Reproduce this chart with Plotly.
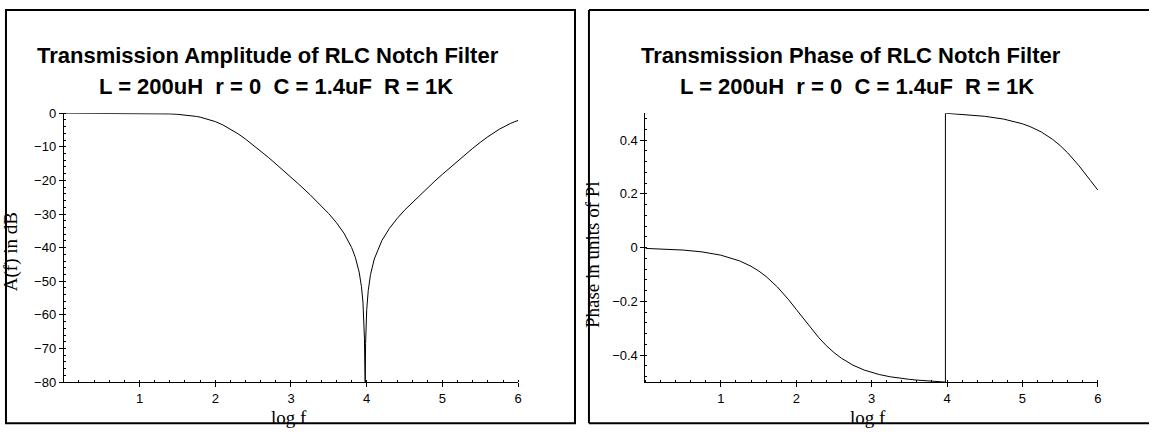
import plotly.graph_objects as go

W, H = 1153, 435

# ---- data ----
log_f = [0.0, 0.25, 0.5, 0.75, 1.0, 1.25, 1.4, 1.5, 1.6, 1.75, 1.8, 1.9, 2.0, 2.1, 2.2, 2.25,
         2.3, 2.4, 2.5, 2.6, 2.7, 2.75, 2.9, 3.0, 3.1, 3.25, 3.3, 3.4, 3.5, 3.6, 3.7, 3.8,
         3.85, 3.9, 3.93, 3.95, 3.96, 3.97, 3.975, 3.978,
         3.98, 3.985, 3.99, 4.0, 4.02, 4.05, 4.1, 4.2, 4.3, 4.4, 4.5, 4.75, 4.9, 5.0,
         5.1, 5.25, 5.4, 5.5, 5.6, 5.75, 5.9, 6.0]

amp_db = [-0.0003, -0.001, -0.0034, -0.011, -0.034, -0.105, -0.207, -0.324, -0.502, -0.951,
          -1.166, -1.727, -2.489, -3.477, -4.690, -5.376, -6.110, -7.700, -9.422, -11.241,
          -13.126, -14.089, -17.03, -19.04, -21.07, -24.21, -25.29, -27.52, -29.91, -32.56,
          -35.71, -39.93, -42.90, -47.27, -51.50, -56.18, -59.98, -66.9, -75.08, -80.0,
          -80.0, -68.53, -63.75, -58.43, -52.76, -48.02, -43.36, -37.89, -34.25, -31.36,
          -28.84, -23.29, -20.18, -18.16, -16.17, -13.25, -10.44, -8.66, -6.99, -4.78,
          -3.02, -2.13]

phase_logf = [0.0, 0.25, 0.5, 0.75, 1.0, 1.25, 1.4, 1.5, 1.6, 1.75, 1.8, 1.9, 2.0, 2.1, 2.2,
              2.25, 2.3, 2.4, 2.5, 2.6, 2.7, 2.75, 2.9, 3.0, 3.1, 3.25, 3.3, 3.4, 3.5, 3.6,
              3.7, 3.8, 3.85, 3.9, 3.95, 3.978, 3.978, 4.0, 4.05, 4.1, 4.2, 4.3, 4.4, 4.5,
              4.75, 4.9, 5.0, 5.1, 5.25, 5.4, 5.5, 5.6, 5.75, 5.9, 6.0]

phase_pi = [-0.0028, -0.005, -0.0089, -0.0157, -0.0279, -0.0494, -0.0692, -0.0864, -0.1072,
            -0.1463, -0.1613, -0.1941, -0.2296, -0.2662, -0.3020, -0.3188, -0.3352, -0.3648,
            -0.3902, -0.4114, -0.4292, -0.4367, -0.4551, -0.4644, -0.4718, -0.4804, -0.4827,
            -0.4866, -0.4898, -0.4925, -0.4948, -0.4968, -0.4977, -0.4986, -0.4995, -0.5,
            0.5, 0.4996, 0.4987, 0.4978, 0.4959, 0.4938, 0.4914, 0.4885, 0.4782, 0.4688,
            0.4606, 0.4503, 0.4302, 0.4026, 0.3797, 0.3524, 0.3043, 0.2502, 0.2140]

x_ticks = [1, 2, 3, 4, 5, 6]
amp_ticks = [0, -10, -20, -30, -40, -50, -60, -70, -80]
phase_ticks = [-0.4, -0.2, 0, 0.2, 0.4]

title_amp = "Transmission Amplitude of RLC Notch Filter"
title_phase = "Transmission Phase of RLC Notch Filter"
subtitle = "L = 200uH\u00a0 r = 0\u00a0 C = 1.4uF\u00a0 R = 1K"
xlabel = "log f"
ylabel_amp = "A(f) in dB"
ylabel_phase = "Phase in units of Pi"

# ---- layout helpers (pixel -> paper) ----
def px(x):
    return x / W

def py(y):
    return 1 - y / H

fig = go.Figure()
fig.add_trace(go.Scatter(x=log_f, y=amp_db, mode="lines",
                         line=dict(color="black", width=1), xaxis="x", yaxis="y",
                         showlegend=False, hoverinfo="skip"))
fig.add_trace(go.Scatter(x=phase_logf, y=phase_pi, mode="lines",
                         line=dict(color="black", width=1), xaxis="x2", yaxis="y2",
                         showlegend=False, hoverinfo="skip"))

tickfont = dict(family="Liberation Sans, Arial, sans-serif", size=13, color="black")

def xaxis(domain, anchor):
    return dict(domain=domain, anchor=anchor, range=[0, 6], tickmode="array",
                tickvals=x_ticks, ticks="outside", ticklen=4, tickcolor="black",
                showline=True, linecolor="black", linewidth=1, showgrid=False,
                zeroline=False, tickfont=tickfont,
                minor=dict(tickmode="linear", tick0=0, dtick=0.2, ticks="inside",
                           ticklen=2, tickcolor="black", showgrid=False))

def yaxis(domain, anchor, rng, tv, mdt):
    return dict(domain=domain, anchor=anchor, range=rng, tickmode="array",
                tickvals=tv, ticks="outside", ticklen=4, tickcolor="black",
                showline=True, linecolor="black", linewidth=1, showgrid=False,
                zeroline=False, tickfont=tickfont,
                minor=dict(tickmode="linear", tick0=0, dtick=mdt, ticks="inside",
                           ticklen=2, tickcolor="black", showgrid=False))

ydom = [py(388.5), py(110)]
fig.update_layout(
    width=W, height=H, autosize=False,
    margin=dict(l=0, r=0, t=0, b=0),
    paper_bgcolor="white", plot_bgcolor="white",
    xaxis=xaxis([px(64), px(520)], "y"),
    yaxis=yaxis(ydom, "x", [-80, 0], amp_ticks, 2),
    xaxis2=xaxis([px(647.7), px(1101.7)], "y2"),
    yaxis2=yaxis(ydom, "x2", [-0.5, 0.5], phase_ticks, 0.04),
)

# panel frames
frame = dict(color="black", width=2)
fig.add_shape(type="rect", xref="paper", yref="paper", x0=px(6), x1=px(577),
              y0=py(431), y1=py(3), line=frame)
for (x0, y0, x1, y1) in [(591, 3, 1153, 3), (591, 3, 591, 431), (591, 431, 1153, 431)]:
    fig.add_shape(type="line", xref="paper", yref="paper", x0=px(x0), y0=py(y0),
                  x1=px(x1), y1=py(y1), line=frame)

tfont = dict(family="Liberation Sans, Arial, sans-serif", size=22, color="black")
lfont = dict(family="Liberation Serif, Times New Roman, serif", size=19, color="black")

def ann(text, x, y, font, angle=0):
    fig.add_annotation(text=text, x=px(x), y=py(y), xref="paper", yref="paper",
                       showarrow=False, xanchor="center", yanchor="middle",
                       font=font, textangle=angle)

ann("<b>" + title_amp + "</b>", 268.5, 50, tfont)
ann("<b>" + subtitle + "</b>", 277, 82, tfont)
ann("<b>" + title_phase + "</b>", 854, 50, tfont)
ann("<b>" + subtitle + "</b>", 859.5, 82, tfont)

ann(xlabel, 290, 425, lfont)
ann(xlabel, 871, 425, lfont)
ann(ylabel_amp, 11, 253, lfont, -90)
ann(ylabel_phase, 594, 256, lfont, -90)

fig.write_html(
    "out.html",
    config={"displayModeBar": False},
    post_script="document.body.style.margin='0';document.body.style.padding='0';"
                "document.body.style.overflow='hidden';",
)
